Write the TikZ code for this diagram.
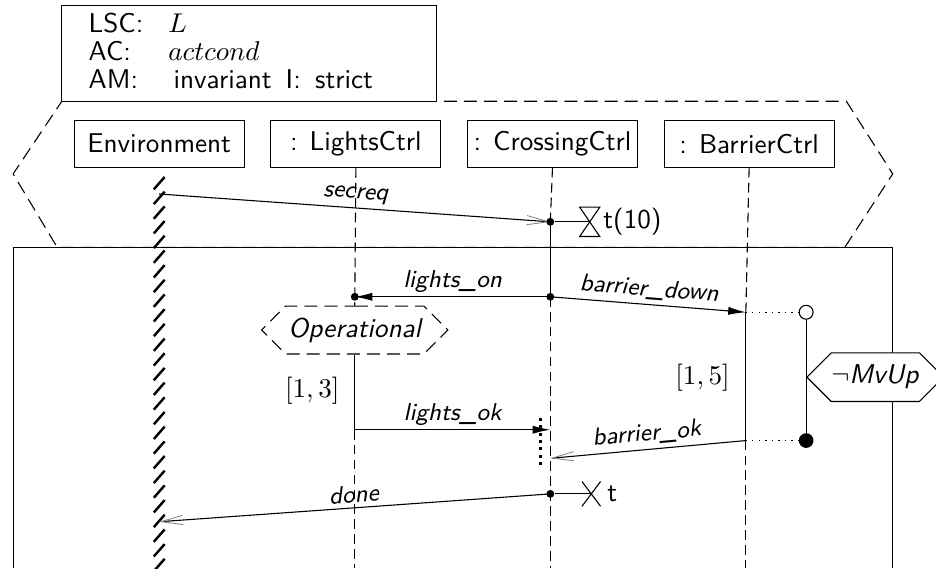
\documentclass[tikz,border=0pt]{standalone}
\usetikzlibrary{positioning,arrows.meta,shapes.symbols}
\renewcommand{\familydefault}{\sfdefault}

\begin{document}
\begin{tikzpicture}[
  inst/.style={draw,minimum width=2.2cm,minimum height=0.61cm,inner sep=0pt},
  lifeline/.style={dash pattern=on 3.6pt off 1.9pt},
  longdash/.style={dash pattern=on 4.8pt off 2.6pt},
  msg/.style={-{Latex[length=6.5pt,width=3pt]}},
  amsg/.style={-{Straight Barb[length=8pt,width=3.4pt,line width=0.3pt,color=gray]}},
  lbl/.style={midway,above,sloped,font=\small\itshape,inner sep=1.5pt},
  cond/.style={shape=signal,signal to=west and east,draw,fill=white,inner sep=0pt},
  event/.style={circle,fill,inner sep=0pt,minimum size=2.9pt},
  hdr/.style={anchor=base west,inner sep=0pt}
]
\useasboundingbox (0,0) rectangle (12.11,7.35);

% prechart and main chart
\draw[longdash] (0.80,6.04) -- (10.95,6.04) -- (11.55,5.10) -- (10.93,4.15)
  -- (0.74,4.15) -- (0.17,5.10) -- cycle;
\draw (0.17,0) -- (0.17,4.15) -- (11.55,4.15) -- (11.55,0);

% header
\draw[fill=white] (0.80,6.04) rectangle (5.65,7.28);
\node[hdr] (lsc) at (1.14,6.93) {LSC:};
\node[hdr] (lscval) at (2.17,6.93) {$L$};
\node[hdr] (ac) at (1.14,6.57) {AC:};
\node[hdr] (acval) at (2.17,6.57) {$actcond$};
\node[hdr] (am) at (1.14,6.21) {AM:};
\node[hdr] (amval) at (2.24,6.21) {invariant};
\node[hdr] (il) at (3.69,6.21) {I:};
\node[hdr] (ilval) at (4.07,6.21) {strict};

% instances
\node[inst] (env) at (2.06,5.49) {Environment};
\node[inst,right=0.33cm of env] (lights) {: LightsCtrl};
\node[inst,right=0.33cm of lights] (cross) {: CrossingCtrl};
\node[inst,right=0.33cm of cross] (barrier) {: BarrierCtrl};

% events
\coordinate (e1) at (2.06,4.84);
\coordinate (c1) at (7.12,4.48);
\coordinate (c2) at (7.12,3.51);
\coordinate (l1) at (4.59,3.51);
\coordinate (b1) at (9.65,3.31);
\coordinate (l2) at (4.59,1.79);
\coordinate (c3) at (7.12,1.79);
\coordinate (b2) at (9.65,1.65);
\coordinate (c4) at (7.12,1.42);
\coordinate (c5) at (7.12,0.96);
\coordinate (e2) at (2.06,0.60);

% environment lifeline
\foreach \y in {0.04,0.23,...,5.1}
  \draw[line width=0.9pt] (1.99,\y-0.08) -- (2.13,\y+0.08);

% conditions
\node[cond,longdash,minimum width=2.41cm,minimum height=0.62cm] (oper)
  at (4.59,3.08) {\itshape Operational};

% lifelines
\draw[lifeline] (lights.south) -- (oper.north);
\draw (oper.south) -- (l2);
\draw[lifeline] (l2) -- (4.59,0);
\draw[lifeline] (cross.south) -- (c1);
\draw (c1) -- (c2);
\draw[lifeline] (c2) -- (7.12,0);
\draw[lifeline] (barrier.south) -- (b1);
\draw (b1) -- (b2);
\draw[lifeline] (b2) -- (9.65,0);

% messages
\draw[amsg] (e1) -- node[lbl] {secreq} (c1);
\draw[msg] (c2) -- node[lbl] {lights\_on} (l1);
\draw[msg] (c2) -- node[lbl] {barrier\_down} (b1);
\draw[msg] (l2) -- node[lbl] {lights\_ok} (c3);
\draw[amsg] (b2) -- node[lbl] {barrier\_ok} (c4);
\draw[amsg] (c5) -- node[lbl] {done} (e2);
\node[event] (d1) at (c1) {};
\node[event] (d2) at (c2) {};
\node[event] (d3) at (l1) {};
\node[event] (d4) at (c5) {};

% coregion
\draw[line width=1.1pt,dash pattern=on 1.1pt off 1.6pt] (6.99,1.94) -- (6.99,1.31);

% timers
\coordinate (hg) at (7.63,4.48);
\draw (d1) -- (hg);
\draw (7.50,4.67) -- (7.76,4.67) -- (7.50,4.29) -- (7.76,4.29) -- cycle;
\node[anchor=west,inner sep=0pt] (tset) at (7.80,4.48) {t(10)};
\coordinate (tx) at (7.65,0.96);
\draw (d4) -- (tx);
\draw (7.53,1.12) -- (7.77,0.80) (7.53,0.80) -- (7.77,1.12);
\node[anchor=west,inner sep=0pt] (ttime) at (7.85,0.96) {t};

% intervals
\node (int13) at (4.04,2.30) {$[1,3]$};
\node (int15) at (9.09,2.46) {$[1,5]$};

% invariant
\node[circle,draw,fill=white,inner sep=0pt,minimum size=0.18cm] (open) at (10.43,3.31) {};
\node[circle,fill,inner sep=0pt,minimum size=0.19cm] (closed) at (10.43,1.65) {};
\draw[dotted] (b1) -- (open);
\draw[dotted] (b2) -- (closed);
\draw (open) -- (closed);
\node[cond,anchor=west,minimum width=1.75cm,minimum height=0.63cm] (mvup)
  at (10.43,2.47) {$\neg$\textit{MvUp}};
\end{tikzpicture}
\end{document}
